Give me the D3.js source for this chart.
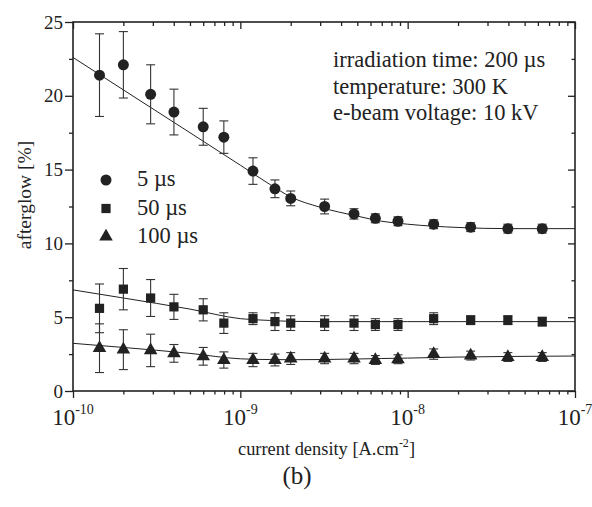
<!DOCTYPE html>
<html><head><meta charset="utf-8">
<script src="https://cdn.jsdelivr.net/npm/d3@7/dist/d3.min.js"></script>
<style>body{margin:0;background:#fff}svg{display:block}text{font-family:"Liberation Serif","Times New Roman",serif;fill:#222}</style>
</head><body>
<script>
// ---- data ----
const currentDensity = [1.44e-10, 2.0e-10, 2.91e-10, 4.01e-10, 6.0e-10, 7.97e-10, 1.19e-9, 1.61e-9, 2.0e-9, 3.19e-9, 4.78e-9, 6.41e-9, 8.75e-9, 1.43e-8, 2.38e-8, 3.97e-8, 6.37e-8];
const afterglow5 = [21.4, 22.1, 20.1, 18.9, 17.9, 17.2, 14.9, 13.7, 13.05, 12.5, 12.0, 11.7, 11.5, 11.3, 11.1, 11.0, 11.0];
const err5 = [2.8, 2.25, 2.0, 1.55, 1.25, 1.1, 0.9, 0.6, 0.5, 0.5, 0.35, 0.3, 0.3, 0.3, 0.3, 0.3, 0.3];
const afterglow50 = [5.6, 6.9, 6.3, 5.7, 5.5, 4.6, 4.9, 4.7, 4.6, 4.6, 4.6, 4.5, 4.5, 4.9, 4.8, 4.8, 4.7];
const err50 = [1.65, 1.4, 1.25, 0.85, 0.75, 0.7, 0.4, 0.6, 0.5, 0.5, 0.5, 0.4, 0.4, 0.4, 0.3, 0.3, 0.3];
const afterglow100 = [2.9, 2.8, 2.75, 2.55, 2.35, 2.1, 2.1, 2.1, 2.2, 2.2, 2.2, 2.1, 2.15, 2.5, 2.4, 2.3, 2.3];
const err100 = [1.65, 1.35, 1.1, 0.6, 0.6, 0.55, 0.45, 0.4, 0.4, 0.35, 0.35, 0.3, 0.3, 0.35, 0.3, 0.3, 0.3];
const fitX = [1e-10, 2e-10, 5e-10, 1e-9, 1.5e-9, 2e-9, 3e-9, 5e-9, 7e-9, 1e-8, 2e-8, 4e-8, 1e-7];
const fit5 = [22.6, 20.4, 17.5, 15.3, 14.0, 13.15, 12.45, 11.85, 11.5, 11.3, 11.08, 11.0, 11.0];
const fit50 = [6.85, 6.3, 5.55, 4.9, 4.78, 4.72, 4.7, 4.7, 4.7, 4.7, 4.7, 4.7, 4.7];
const fit100 = [3.23, 2.95, 2.55, 2.18, 2.13, 2.12, 2.13, 2.17, 2.2, 2.23, 2.3, 2.34, 2.37];
const seriesNames = ["5 \u00b5s", "50 \u00b5s", "100 \u00b5s"];
const xMajorTicks = [1e-10, 1e-9, 1e-8, 1e-7];
const xTickExponents = ["-10", "-9", "-8", "-7"];
const yMajorTicks = [0, 5, 10, 15, 20, 25];
const annotations = ["irradiation time: 200 \u00b5s", "temperature: 300 K", "e-beam voltage: 10 kV"];
const xTitle = "current density [A.cm";
const xTitleSup = "-2";
const yTitle = "afterglow [%]";
const caption = "(b)";

// ---- layout ----
const W = 592, H = 507;
const L = 73, R = 575, T = 22, B = 391;
const svg = d3.select("body").append("svg").attr("width", W).attr("height", H);
svg.append("rect").attr("width", W).attr("height", H).attr("fill", "#fff");

const x = d3.scaleLog().domain([1e-10, 1e-7]).range([L, R]);
const y = d3.scaleLinear().domain([0, 25]).range([B, T]);

const xMinor = [];
for (let e = -10; e < -7; e++) for (let k = 2; k <= 9; k++) xMinor.push(k * Math.pow(10, e));
const yMinor = d3.range(2.5, 25, 5);

function styleAxis(g) {
  g.select(".domain").remove();
  g.selectAll(".tick line").attr("stroke", "#222").attr("stroke-width", 1.3);
}
// bottom (outward)
svg.append("g").attr("transform", `translate(0,${B})`).call(d3.axisBottom(x).tickValues(xMajorTicks).tickSize(7).tickFormat("")).call(styleAxis);
svg.append("g").attr("transform", `translate(0,${B})`).call(d3.axisBottom(x).tickValues(xMinor).tickSize(3.5).tickFormat("")).call(styleAxis);
// top (inward)
svg.append("g").attr("transform", `translate(0,${T})`).call(d3.axisTop(x).tickValues(xMajorTicks).tickSize(-7).tickFormat("")).call(styleAxis);
svg.append("g").attr("transform", `translate(0,${T})`).call(d3.axisTop(x).tickValues(xMinor).tickSize(-4).tickFormat("")).call(styleAxis);
// left (outward)
const yAx = svg.append("g").attr("transform", `translate(${L},0)`).call(d3.axisLeft(y).tickValues(yMajorTicks).tickSize(8).tickPadding(2)).call(styleAxis);
yAx.selectAll(".tick text").attr("font-size", 19).attr("fill", "#222").attr("font-family", '"Liberation Serif",serif');
svg.append("g").attr("transform", `translate(${L},0)`).call(d3.axisLeft(y).tickValues(yMinor).tickSize(4).tickFormat("")).call(styleAxis);
// right (inward)
svg.append("g").attr("transform", `translate(${R},0)`).call(d3.axisRight(y).tickValues(yMajorTicks).tickSize(-7).tickFormat("")).call(styleAxis);
svg.append("g").attr("transform", `translate(${R},0)`).call(d3.axisRight(y).tickValues(yMinor).tickSize(-3.5).tickFormat("")).call(styleAxis);

// frame
svg.append("rect").attr("x", L).attr("y", T).attr("width", R - L).attr("height", B - T)
  .attr("fill", "none").attr("stroke", "#222").attr("stroke-width", 1.6);

// x tick labels
xMajorTicks.forEach((v, i) => {
  const t = svg.append("text").attr("x", x(v)).attr("y", 425).attr("text-anchor", "middle").attr("font-size", 23);
  t.append("tspan").text("10");
  t.append("tspan").attr("font-size", 14).attr("dy", -11).text(xTickExponents[i]);
});

// fit lines
const line = d3.line().x(d => x(d[0])).y(d => y(d[1])).curve(d3.curveMonotoneX);
[fit5, fit50, fit100].forEach(f => {
  svg.append("path").datum(fitX.map((v, i) => [v, f[i]])).attr("d", line)
    .attr("fill", "none").attr("stroke", "#222").attr("stroke-width", 1);
});

// error bars and markers
const series = [
  {vals: afterglow5, errs: err5, sym: d3.symbolCircle, size: 95},
  {vals: afterglow50, errs: err50, sym: d3.symbolSquare, size: 85},
  {vals: afterglow100, errs: err100, sym: d3.symbolTriangle, size: 80}
];
series.forEach(s => {
  const g = svg.append("g");
  currentDensity.forEach((cx, i) => {
    const px = x(cx), y1 = y(s.vals[i] + s.errs[i]), y0 = y(s.vals[i] - s.errs[i]);
    g.append("line").attr("x1", px).attr("x2", px).attr("y1", y1).attr("y2", y0).attr("stroke", "#333").attr("stroke-width", 1.1);
    g.append("line").attr("x1", px - 4.5).attr("x2", px + 4.5).attr("y1", y1).attr("y2", y1).attr("stroke", "#333").attr("stroke-width", 1.1);
    g.append("line").attr("x1", px - 4.5).attr("x2", px + 4.5).attr("y1", y0).attr("y2", y0).attr("stroke", "#333").attr("stroke-width", 1.1);
  });
  g.selectAll("path").data(s.vals).enter().append("path")
    .attr("d", d3.symbol().type(s.sym).size(s.size))
    .attr("transform", (d, i) => `translate(${x(currentDensity[i])},${y(d)})`)
    .attr("fill", "#222");
});

// legend
const legY = [180, 208.5, 236.5];
series.forEach((s, i) => {
  svg.append("path").attr("d", d3.symbol().type(s.sym).size(s.size)).attr("transform", `translate(106,${legY[i]})`).attr("fill", "#222");
  svg.append("text").attr("x", 137).attr("y", legY[i] + 6).attr("font-size", 22.5).text(seriesNames[i]);
});

// annotations
annotations.forEach((a, i) => {
  svg.append("text").attr("x", 333).attr("y", 67 + i * 26.7).attr("font-size", 22.5).text(a);
});

// axis titles
const xt = svg.append("text").attr("x", 326.5).attr("y", 455).attr("text-anchor", "middle").attr("font-size", 18.4);
xt.append("tspan").text(xTitle);
xt.append("tspan").attr("font-size", 12).attr("dy", -8).text(xTitleSup);
xt.append("tspan").attr("dy", 8).text("]");
svg.append("text").attr("transform", "translate(31,195) rotate(-90)").attr("text-anchor", "middle").attr("font-size", 19.5).text(yTitle);
svg.append("text").attr("x", 297).attr("y", 484).attr("text-anchor", "middle").attr("font-size", 25).text(caption);
</script>
</body></html>
